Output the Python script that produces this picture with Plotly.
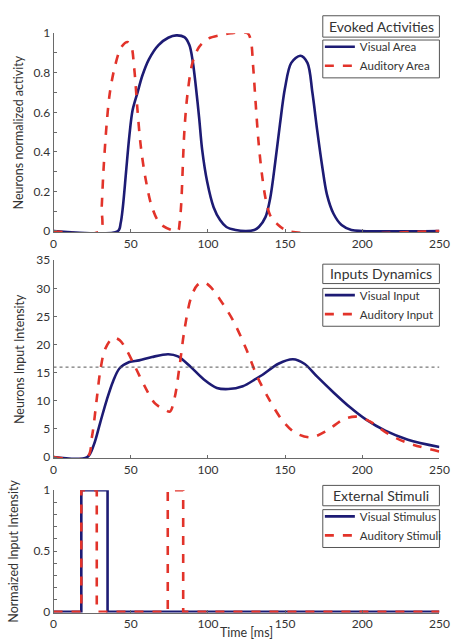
import plotly.graph_objects as go

# ---------------- data ----------------
va_t = [0, 41.8, 43.5, 44.9, 47, 49.1, 51.2, 54.4, 57.5, 61.7, 68, 74.3, 79.5, 84.8, 88, 90, 92.1, 94.3, 96.3, 99.5,
        103.7, 107.9, 112, 118, 124.7, 130, 133, 137.3, 140.4, 143.6, 146.7, 149.9, 154, 159.9, 164.5, 167.7, 170.8,
        174, 177.1, 181.4, 186.6, 193, 200, 250]
va_y = [0, 0, 0.04, 0.12, 0.30, 0.48, 0.61, 0.70, 0.785, 0.867, 0.94, 0.977, 0.989, 0.98, 0.94, 0.867, 0.737, 0.575,
        0.41, 0.25, 0.12, 0.055, 0.02, 0.005, 0, 0.005, 0.02, 0.07, 0.167, 0.346, 0.54, 0.72, 0.85, 0.886, 0.85, 0.70,
        0.51, 0.33, 0.185, 0.087, 0.03, 0.005, 0, 0]

aa_t = [0, 30.2, 31.2, 32.3, 34.4, 36.5, 39.7, 43.9, 48, 50.2, 52.3, 54.4, 56.5, 59.6, 63.8, 69, 76.4, 80.6, 81.7,
        82.7, 84.8, 86.9, 90, 94.3, 99.5, 107.9, 115, 125.7, 127.8, 129.3, 131, 132.7, 134.8, 137.3, 140.4, 144.6,
        152, 250]
aa_y = [0, 0, 0.12, 0.30, 0.54, 0.70, 0.83, 0.93, 0.956, 0.94, 0.82, 0.61, 0.43, 0.265, 0.12, 0.037, 0.005, 0, 0.04,
        0.135, 0.51, 0.70, 0.85, 0.93, 0.97, 0.99, 1.0, 1.0, 0.964, 0.834, 0.64, 0.46, 0.3, 0.167, 0.078, 0.037, 0, 0]

vi_t = [0, 21.8, 26, 30.2, 34.4, 38.6, 42.8, 49.1, 55.4, 63.8, 74.3, 80.6, 89, 97.4, 105.8, 113.2, 122.6, 131,
        135.2, 145.7, 155.1, 162.5, 170.8, 181.4, 191.9, 202.3, 214.9, 229.6, 250]
vi_y = [0, 0, 2.1, 6.1, 10.1, 13.5, 15.8, 16.9, 17.2, 17.8, 18.3, 17.9, 16.0, 13.8, 12.3, 12.1, 12.6, 13.9, 14.6,
        16.6, 17.4, 16.6, 14.3, 11.5, 8.9, 6.7, 4.7, 3.1, 1.8]

ai_t = [0, 21.8, 25, 28.1, 30.2, 33.4, 38.6, 42.8, 47, 53.3, 59.6, 65.9, 72.2, 75.4, 78.5, 81.7, 84.8, 89, 93.2,
        97.4, 101.6, 107.9, 116.3, 124.7, 132, 139.4, 147.8, 156.2, 166.7, 177.1, 187.7, 196, 204.5, 217, 229.6, 250]
ai_y = [0, 0, 3.8, 10.6, 15.2, 19.2, 21.2, 20.8, 19.2, 15.8, 12.3, 9.5, 8.4, 8.1, 10.6, 16.3, 22.6, 28.3, 30.6, 31.1,
        30.3, 28, 24.3, 19.3, 14.3, 10.4, 6.7, 4.4, 3.5, 4.7, 6.7, 7.2, 6.4, 4.1, 2.5, 1.0]

threshold = 16

vs_t = [0, 18, 35, 250]
vs_y = [0, 1, 0, 0]
as_t = [0, 18, 28, 74, 84, 250]
as_y = [0, 1, 0, 1, 0, 0]

BLUE = "#1d1b74"
RED = "#e2332a"
FONT = "Lato"
W, H = 464, 640

fig = go.Figure()

def line(x, y, name, color, dash, xa, ya, legend, shape="spline"):
    fig.add_trace(go.Scatter(
        x=x, y=y, name=name, mode="lines",
        line=dict(color=color, width=2.6, dash=dash, shape=shape, smoothing=0.9 if shape == "spline" else None),
        xaxis=xa, yaxis=ya, legend=legend))

line(va_t, va_y, "Visual Area", BLUE, "solid", "x", "y", "legend")
line(aa_t, aa_y, "Auditory Area", RED, "dash", "x", "y", "legend")
line(vi_t, vi_y, "Visual Input", BLUE, "solid", "x2", "y2", "legend2")
line(ai_t, ai_y, "Auditory Input", RED, "dash", "x2", "y2", "legend2")
fig.add_trace(go.Scatter(x=[0, 250], y=[threshold, threshold], mode="lines", showlegend=False,
                         line=dict(color="#555555", width=1, dash="dot"), xaxis="x2", yaxis="y2"))
line(vs_t, vs_y, "Visual Stimulus", BLUE, "solid", "x3", "y3", "legend3", shape="hv")
line(as_t, as_y, "Auditory Stimuli", RED, "dash", "x3", "y3", "legend3", shape="hv")

def px_x(p):
    return p / W

def px_y(p):
    return 1 - p / H

xdom = [px_x(52), px_x(449)]
axis_common = dict(showline=True, linecolor="#6a6a6a", linewidth=1, ticks="inside", ticklen=3,
                   tickcolor="#6a6a6a", showgrid=False, zeroline=False,
                   tickfont=dict(family=FONT, size=12, color="#333333"))

layout = dict(
    width=W, height=H, margin=dict(l=0, r=0, t=0, b=0),
    paper_bgcolor="white", plot_bgcolor="white",
    font=dict(family=FONT, color="#333333"),
    xaxis=dict(domain=xdom, range=[0, 250], tickvals=[0, 50, 100, 150, 200, 250], anchor="y", **axis_common),
    yaxis=dict(domain=[px_y(231), px_y(26)], range=[-0.006, 1.0], tickvals=[0, 0.2, 0.4, 0.6, 0.8, 1],
               ticktext=["0", "0.2", "0.4", "0.6", "0.8", "1"], anchor="x",
               minor=dict(dtick=0.1, ticks="inside", ticklen=3, tickcolor="#6a6a6a"),
               title=dict(text="Neurons normalized activity", font=dict(family=FONT, size=12.5, color="#333333"),
                          standoff=6), **axis_common),
    xaxis2=dict(domain=xdom, range=[0, 250], tickvals=[0, 50, 100, 150, 200, 250], anchor="y2", **axis_common),
    yaxis2=dict(domain=[px_y(464), px_y(260)], range=[-0.2, 35], tickvals=[0, 5, 10, 15, 20, 25, 30, 35],
                anchor="x2",
                title=dict(text="Neurons Input Intensity", font=dict(family=FONT, size=12.5, color="#333333"),
                           standoff=8), **axis_common),
    xaxis3=dict(domain=xdom, range=[0, 250], tickvals=[0, 50, 100, 150, 200, 250], anchor="y3",
                title=dict(text="Time [ms]", font=dict(family=FONT, size=12.5, color="#333333"), standoff=0),
                **axis_common),
    yaxis3=dict(domain=[px_y(623), px_y(497)], range=[-0.006, 1.0], tickvals=[0, 0.5, 1],
                ticktext=["0", "0.5", "1"], anchor="x3",
                minor=dict(dtick=0.1, ticks="inside", ticklen=3, tickcolor="#6a6a6a"),
                title=dict(text="Normaized Input Intensity", font=dict(family=FONT, size=12.5, color="#333333"),
                           standoff=12), **axis_common),
)

legend_common = dict(bgcolor="rgba(0,0,0,0)", borderwidth=0, font=dict(family=FONT, size=11.5, color="#333333"),
                     xanchor="left", yanchor="top", tracegroupgap=0, itemwidth=30)
layout["legend"] = dict(x=px_x(326), y=px_y(25), **legend_common)
layout["legend2"] = dict(x=px_x(326), y=px_y(281), **legend_common)
layout["legend3"] = dict(x=px_x(326), y=px_y(509), **legend_common)
fig.update_layout(**layout)

# title boxes and legend frames
boxes = [
    ("Evoked Activities", 8, 30, 33, 72),
    ("Inputs Dynamics", 264, 284, 289, 328),
    ("External Stimuli", 492, 513, 517, 556),
]
for text, t0, t1, l0, l1 in boxes:
    fig.add_shape(type="rect", xref="paper", yref="paper", x0=px_x(329), x1=px_x(449), y0=px_y(t1), y1=px_y(t0),
                  line=dict(color="#555555", width=1), fillcolor="white", layer="above")
    fig.add_shape(type="rect", xref="paper", yref="paper", x0=px_x(329), x1=px_x(449), y0=px_y(l1), y1=px_y(l0),
                  line=dict(color="#555555", width=1), fillcolor="rgba(255,255,255,0)", layer="above")
    fig.add_annotation(text=text, xref="paper", yref="paper", x=px_x(389), y=px_y((t0 + t1) / 2),
                       showarrow=False, font=dict(family=FONT, size=14, color="#333333"),
                       xanchor="center", yanchor="middle")

fig.write_html("out.html")
